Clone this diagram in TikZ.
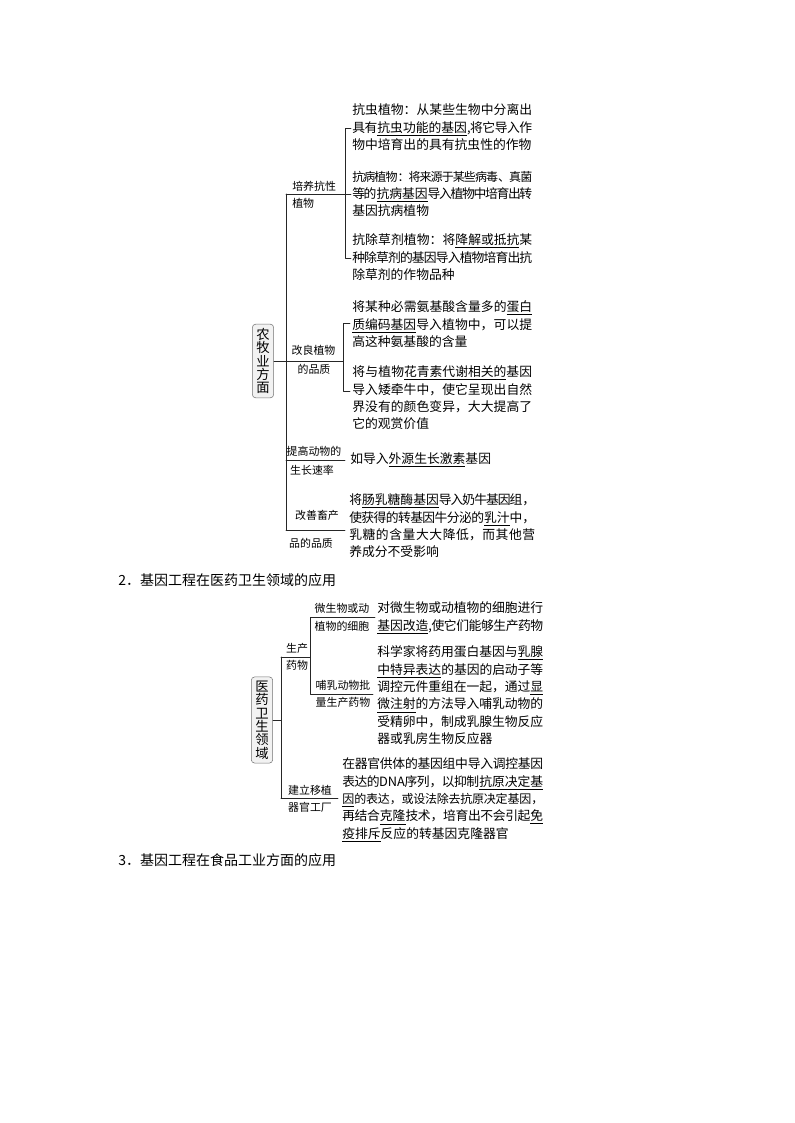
\documentclass[tikz,border=0pt]{standalone}
\usepackage{fontspec}
\setmainfont{Noto Sans CJK SC}
\XeTeXlinebreaklocale "zh"
\XeTeXlinebreakskip=0pt plus 1.5pt minus 1.6pt
\newcommand\ud[1]{\underline{#1}}
\newcommand\sq[1]{{\fontsize{9}{13.05}\selectfont #1}}
\tikzset{
  txt/.style={anchor=north west, inner sep=0pt, align=justify, font=\fontsize{9.6}{13.05}\selectfont},
  lbl/.style={inner sep=0pt, font=\fontsize{8.2}{10}\selectfont},
  rootbox/.style={draw=black!55, fill=black!5, rounded corners=2.5pt, inner xsep=3pt, inner ysep=3pt, align=center, font=\fontsize{10}{10}\selectfont},
  tree/.style={black!85, line width=0.45pt},
  head/.style={anchor=west, inner sep=0pt, font=\fontsize{10.5}{12}\selectfont}
}
\begin{document}
\begin{tikzpicture}[line cap=round,line join=round,x=0.75pt,y=-0.75pt]
\useasboundingbox (0,0) rectangle (794,1123);

% 农牧业方面
\node[rootbox] (nm) at (263,361) {农\\牧\\业\\方\\面};
\coordinate (nmt1) at (286,194);
\coordinate (nmt2) at (286,361);
\coordinate (nmt3) at (286,460);
\coordinate (nmt4) at (286,530);
\draw[tree] (nm.east) -- (nmt2);
\draw[tree] (nmt1) -- (nmt4);

\coordinate (kx) at (345,194);
\coordinate (kxa) at (345,128);
\coordinate (kxc) at (345,258);
\coordinate (kxe) at (351,194);
\coordinate (kxae) at (351,128);
\coordinate (kxce) at (351,258);
\draw[tree] (nmt1) -- (kxe);
\draw[tree] (kxae) -- (kxa) -- (kxc) -- (kxce);

\coordinate (gl) at (343,361);
\coordinate (gla) at (343,323);
\coordinate (glc) at (343,391);
\coordinate (glae) at (350,323);
\coordinate (glce) at (350,391);
\draw[tree] (nmt2) -- (gl);
\draw[tree] (glae) -- (gla) -- (glc) -- (glce);

\coordinate (tge) at (345,460);
\coordinate (gse) at (345,530);
\draw[tree] (nmt3) -- (tge);
\draw[tree] (nmt4) -- (gse);

\node[lbl,anchor=west] (kx1) at (292,186) {培养抗性};
\node[lbl,anchor=west] (kx2) at (292,203) {植物};
\node[lbl] (gl1) at (313.5,350) {改良植物};
\node[lbl] (gl2) at (314,369) {的品质};
\node[lbl] (tg1) at (314,451) {提高动物的};
\node[lbl] (tg2) at (312,470) {生长速率};
\node[lbl] (gs1) at (317,515) {改善畜产};
\node[lbl] (gs2) at (311,543) {品的品质};

\node[txt,text width=135pt] (kc) at (352,103.6) {抗虫植物：从某些生物中分离出\linebreak
  具有\ud{抗虫功能的基因},将它导入作\linebreak 物中培育出的具有抗虫性的作物};
\node[txt,text width=135pt] (kb) at (352,170.6) {\sq{抗病植物：将来源于某些病毒、真菌}\linebreak
  等的\ud{抗病基因}导入植物中培育出转\linebreak 基因抗病植物};
\node[txt,text width=135pt] (kcj) at (352,233.6) {抗除草剂植物：将\ud{降解或抵抗}某\linebreak
  种除草剂的基因导入植物培育出抗\linebreak 除草剂的作物品种};
\node[txt,text width=135pt] (dbz) at (352,300.6) {将某种必需氨基酸含量多的\ud{蛋白}\linebreak
  \ud{质编码基因}导入植物中，可以提\linebreak 高这种氨基酸的含量};
\node[txt,text width=135pt] (hqs) at (352,365.6) {将与植物\ud{花青素代谢相关的}基因\linebreak
  导入矮牵牛中，使它呈现出自然\linebreak 界没有的颜色变异，大大提高了\linebreak 它的观赏价值};
\node[txt,anchor=west] (ws) at (350,460) {如导入\ud{外源生长激素}基因};
\node[txt,text width=139.5pt] (rt) at (349,493.6) {将\ud{肠乳糖酶基因}导入奶牛基因组，\linebreak
  使获得的转基因牛分泌的\ud{乳汁}中，\linebreak 乳糖的含量大大降低，而其他营\linebreak 养成分不受影响};

\node[head] (h2) at (118,580) {2．基因工程在医药卫生领域的应用};

% 医药卫生领域
\node[rootbox] (yy) at (262,720) {医\\药\\卫\\生\\领\\域};
\coordinate (yyt) at (281,720);
\coordinate (yyt1) at (281,657);
\coordinate (yyt2) at (281,798);
\draw[tree] (yy.east) -- (yyt);
\draw[tree] (yyt1) -- (yyt2);

\coordinate (sc) at (310,657);
\coordinate (sca) at (310,617);
\coordinate (scc) at (310,694);
\coordinate (scae) at (375,617);
\coordinate (scce) at (373,694);
\coordinate (jle) at (338,798);
\draw[tree] (yyt1) -- (sc);
\draw[tree] (scae) -- (sca) -- (scc) -- (scce);
\draw[tree] (yyt2) -- (jle);

\node[lbl] (sc1) at (297,648) {生产};
\node[lbl] (sc2) at (297,665) {药物};
\node[lbl] (wx1) at (342,608) {微生物或动};
\node[lbl] (wx2) at (342,626) {植物的细胞};
\node[lbl] (br1) at (343,685) {哺乳动物批};
\node[lbl] (br2) at (343,702) {量生产药物};
\node[lbl] (jl1) at (310,790) {建立移植};
\node[lbl] (jl2) at (310,807) {器官工厂};

\node[txt,text width=124.5pt] (wsw) at (377,601.6) {对微生物或动植物的细胞进行\linebreak
  \ud{基因改造},使它们能够生产药物};
\node[txt,text width=124.5pt] (kxj) at (377,645.6) {科学家将药用蛋白基因与\ud{乳腺}\linebreak
  \ud{中特异表达}的基因的启动子等\linebreak 调控元件重组在一起，通过\ud{显}\linebreak
  \ud{微注射}的方法导入哺乳动物的\linebreak 受精卵中，制成乳腺生物反应\linebreak 器或乳房生物反应器};
\node[txt,text width=150.75pt] (qg) at (342,757.6) {在器官供体的基因组中导入调控基因\linebreak
  表达的DNA序列，以抑制\ud{抗原决定基}\linebreak \sq{\ud{因}的表达，或设法除去抗原决定基因，}\linebreak
  再结合\ud{克隆}技术，培育出不会引起\ud{免}\linebreak \ud{疫排斥}反应的转基因克隆器官};

\node[head] (h3) at (118,860) {3．基因工程在食品工业方面的应用};
\end{tikzpicture}
\end{document}
